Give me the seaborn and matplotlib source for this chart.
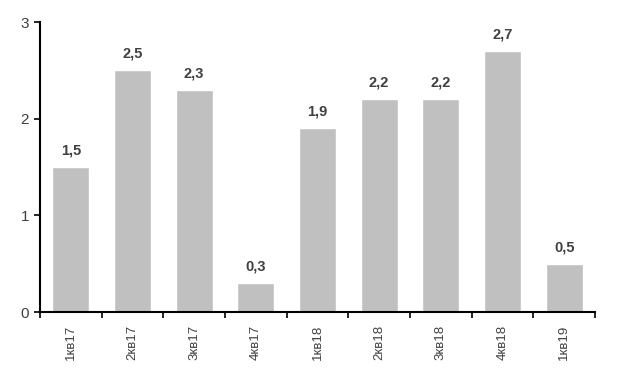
import matplotlib
matplotlib.use("Agg")
import matplotlib.pyplot as plt
import seaborn as sns
import pandas as pd
import numpy as np

categories = ["1кв17", "2кв17", "3кв17", "4кв17", "1кв18", "2кв18", "3кв18", "4кв18", "1кв19"]
values = [1.5, 2.5, 2.3, 0.3, 1.9, 2.2, 2.2, 2.7, 0.5]
yticks = [0, 1, 2, 3]

sns.set_style("white")
plt.rcParams["font.family"] = ["Liberation Sans", "DejaVu Sans"]

df = pd.DataFrame({"cat": categories, "val": values})

fig = plt.figure(figsize=(6.2, 3.74), dpi=100)
ax = fig.add_axes([40/620, 62/374, 555/620, 290/374])

sns.barplot(data=df, x="cat", y="val", color="#c0c0c0", saturation=1, width=0.6, ax=ax)

ax.set_xlim(-0.5, len(categories) - 0.5)
ax.set_ylim(0, 3)
ax.set_yticks(yticks)
ax.set_yticklabels([str(t) for t in yticks], fontsize=11, color="#404040")
ax.set_xlabel("")
ax.set_ylabel("")

ax.set_xticks(range(len(categories)))
ax.set_xticklabels(categories, rotation=90, fontsize=9.5, color="#404040")
ax.tick_params(axis="x", which="major", bottom=True, length=0, pad=9)
ax.set_xticks(np.arange(-0.5, len(categories), 1.0), minor=True)
ax.tick_params(axis="x", which="minor", bottom=True, length=4, width=1.2, color="#000000", direction="out")
ax.tick_params(axis="y", which="major", left=True, length=4, width=1.2, color="#000000", direction="out", pad=4)

for s in ["top", "right"]:
    ax.spines[s].set_visible(False)
for s in ["left", "bottom"]:
    ax.spines[s].set_color("#000000")
    ax.spines[s].set_linewidth(1.5)

for i, v in enumerate(values):
    ax.text(i, v + 0.1, f"{v:.1f}".replace(".", ","), ha="center", va="bottom",
            fontsize=10.5, fontweight="bold", color="#404040")

fig.savefig("out.png", dpi=100)
